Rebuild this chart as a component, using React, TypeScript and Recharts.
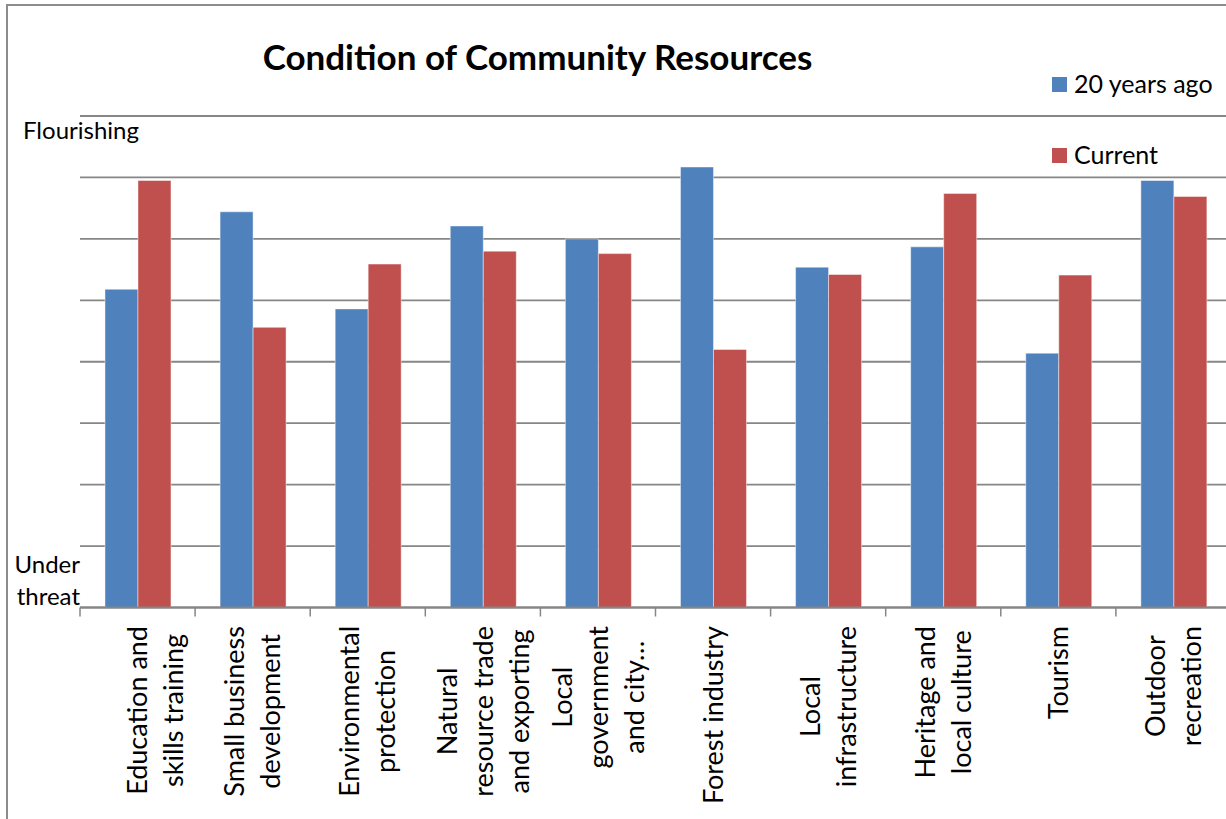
import React from "react";
import { BarChart, Bar, XAxis, YAxis, CartesianGrid, Legend } from "recharts";

const categories = [
  "Education and skills training",
  "Small business development",
  "Environmental protection",
  "Natural resource trade and exporting",
  "Local government and city…",
  "Forest industry",
  "Local infrastructure",
  "Heritage and local culture",
  "Tourism",
  "Outdoor recreation",
];

// wrapped tick labels, as shown under the axis
const categoryLines = [
  ["Education and", "skills training"],
  ["Small business", "development"],
  ["Environmental", "protection"],
  ["Natural", "resource trade", "and exporting"],
  ["Local", "government", "and city…"],
  ["Forest industry"],
  ["Local", "infrastructure"],
  ["Heritage and", "local culture"],
  ["Tourism"],
  ["Outdoor", "recreation"],
];

const twentyYearsAgo = [5.18, 6.44, 4.86, 6.21, 6.0, 7.17, 5.54, 5.87, 4.14, 6.95];
const current = [6.95, 4.56, 5.59, 5.8, 5.76, 4.2, 5.42, 6.74, 5.41, 6.69];

const yTicks = [0, 1, 2, 3, 4, 5, 6, 7, 8];
const topLabel = "Flourishing";
const bottomLabel = ["Under", "threat"];

const seriesNames = ["20 years ago", "Current"];
const BLUE = "#4F81BD";
const RED = "#C0504D";
const GRID = "#868686";
const FONT = "Lato, 'Open Sans', sans-serif";

const CHART_W = 1232;
const CHART_H = 819;
const MARGIN = { top: 116, right: 1, left: 0, bottom: 0 };
const Y_AXIS_W = 80;
const X_AXIS_H = 211.5;
const BAND = (CHART_W - MARGIN.left - MARGIN.right - Y_AXIS_W) / categories.length;

const LABEL_SIZE = 27;

const data = categories.map((name, i) => ({
  name,
  past: twentyYearsAgo[i],
  current: current[i],
}));

let ctx: CanvasRenderingContext2D | null = null;
const measure = (text: string, font: string) => {
  if (!ctx) ctx = document.createElement("canvas").getContext("2d");
  if (!ctx) return text.length * 12;
  ctx.font = font;
  return ctx.measureText(text).width;
};

const XTick = (props: any) => {
  const { x, y, index } = props;
  const lines = categoryLines[index] ?? [String(props.payload?.value ?? "")];
  const maxW = Math.max(...lines.map((l) => measure(l, `${LABEL_SIZE}px Lato`)));
  const cy = y + 18.5 + maxW / 2;
  // Excel nudged the first label to the right
  const cx = x + (index === 0 ? 18 : 0);
  const left = x - BAND / 2;
  const right = x + BAND / 2;
  return (
    <g>
      <line x1={left} x2={left} y1={y} y2={y + 9} stroke={GRID} strokeWidth={1.5} />
      {index === categories.length - 1 && (
        <line x1={right} x2={right} y1={y} y2={y + 9} stroke={GRID} strokeWidth={1.5} />
      )}
      {lines.map((l, i) => {
        const lx = cx + (i - (lines.length - 1) / 2) * 36;
        return (
          <text
            key={i}
            x={lx}
            y={cy}
            transform={`rotate(-90 ${lx} ${cy})`}
            textAnchor="middle"
            dy="0.36em"
            fontSize={LABEL_SIZE}
            fontFamily={FONT}
            fill="#000"
          >
            {l}
          </text>
        );
      })}
    </g>
  );
};

const YTick = (props: any) => {
  const { y, payload } = props;
  if (payload.value === 8) {
    return (
      <text x={23} y={y + 23} fontSize={24} fontFamily={FONT} fill="#000">
        {topLabel}
      </text>
    );
  }
  if (payload.value === 0) {
    return (
      <g>
        <text x={80} y={y - 34.5} textAnchor="end" fontSize={24} fontFamily={FONT} fill="#000">
          {bottomLabel[0]}
        </text>
        <text x={80} y={y - 2.5} textAnchor="end" fontSize={24} fontFamily={FONT} fill="#000">
          {bottomLabel[1]}
        </text>
      </g>
    );
  }
  return <g />;
};

const renderLegend = () => (
  <div style={{ fontFamily: FONT, fontSize: 25, color: "#000", lineHeight: "30px" }}>
    {seriesNames.map((n, i) => (
      <div key={n} style={{ display: "flex", alignItems: "flex-start", marginBottom: i === 0 ? 41 : 0 }}>
        <span
          style={{
            width: 15,
            height: 15,
            marginTop: 9.5,
            marginRight: 7,
            background: i === 0 ? BLUE : RED,
            display: "inline-block",
          }}
        />
        <span>{n}</span>
      </div>
    ))}
  </div>
);

export default function App() {
  return (
    <div
      style={{
        position: "absolute",
        left: 0,
        top: 0,
        width: 1226,
        height: 819,
        overflow: "hidden",
        background: "#fff",
      }}
    >
      <div
        style={{
          position: "absolute",
          left: 6,
          top: 4,
          width: 1400,
          height: 1000,
          border: "2px solid #8c8c8c",
        }}
      />
      <div style={{ position: "absolute", left: 0, top: 0 }}>
        <BarChart
          width={CHART_W}
          height={CHART_H}
          data={data}
          margin={MARGIN}
          barCategoryGap="21.7%"
          barGap={0}
        >
          <CartesianGrid vertical={false} stroke={GRID} strokeWidth={1.8} />
          <XAxis
            dataKey="name"
            height={X_AXIS_H}
            interval={0}
            tickLine={false}
            tickSize={0}
            tickMargin={0}
            axisLine={{ stroke: GRID, strokeWidth: 1.8 }}
            tick={<XTick />}
          />
          <YAxis
            type="number"
            domain={[0, 8]}
            ticks={yTicks}
            interval={0}
            width={Y_AXIS_W}
            axisLine={false}
            tickLine={false}
            tick={<YTick />}
          />
          <Legend
            layout="vertical"
            align="center"
            verticalAlign="middle"
            wrapperStyle={{ position: "absolute", left: 1052, top: 67.6, width: 170, height: 110 }}
            content={renderLegend}
          />
          <Bar
            dataKey="past"
            name={seriesNames[0]}
            fill={BLUE}
            stroke="rgba(255,255,255,0.45)"
            strokeWidth={1}
            isAnimationActive={false}
          />
          <Bar
            dataKey="current"
            name={seriesNames[1]}
            fill={RED}
            stroke="rgba(255,255,255,0.45)"
            strokeWidth={1}
            isAnimationActive={false}
          />
        </BarChart>
      </div>
      <svg
        width={1226}
        height={819}
        style={{ position: "absolute", left: 0, top: 0, pointerEvents: "none" }}
      >
        <text
          x={537.5}
          y={70}
          textAnchor="middle"
          fontSize={35}
          fontWeight="bold"
          fontFamily={FONT}
          fill="#000"
        >
          Condition of Community Resources
        </text>
      </svg>
    </div>
  );
}
